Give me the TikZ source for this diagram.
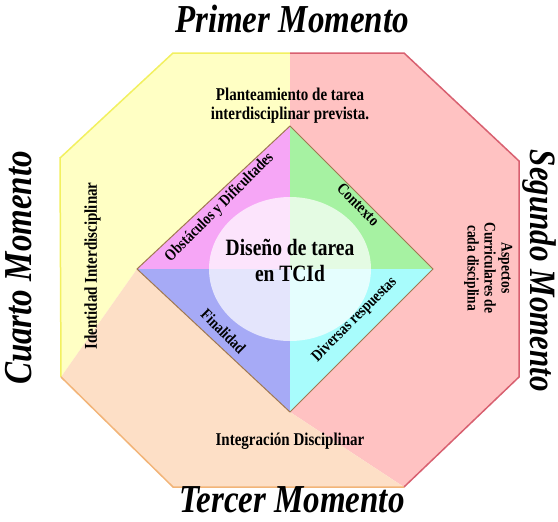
\documentclass[tikz,border=0pt]{standalone}
\usepackage{fontspec}
\setmainfont{Liberation Serif}
\usetikzlibrary{calc}
\definecolor{amarillo}{HTML}{FFFFC4}
\definecolor{bordeam}{HTML}{F2F060}
\definecolor{rojo}{HTML}{FFC2C2}
\definecolor{bordero}{HTML}{D86070}
\definecolor{durazno}{HTML}{FDDFC6}
\definecolor{bordedu}{HTML}{F2B478}
\definecolor{magenta}{HTML}{F6A6F6}
\definecolor{verde}{HTML}{A6F2A2}
\definecolor{azul}{HTML}{A6AAF6}
\definecolor{celeste}{HTML}{A8FCFC}
\definecolor{rombo}{HTML}{A07850}
\newcommand{\estirar}[1]{\scalebox{1}[1.2]{\begin{tabular}{@{}c@{}}#1\end{tabular}}}

\begin{document}
\begin{tikzpicture}[x=1pt,y=-1pt,
    etiq/.style={font=\bfseries\fontsize{15}{16}\selectfont,inner sep=1pt},
    diag/.style={font=\bfseries\fontsize{13.5}{14}\selectfont,inner sep=1pt},
    momento/.style={font=\bfseries\itshape\fontsize{33}{36}\selectfont,inner sep=0pt}]
    \useasboundingbox (0,0) rectangle (558,522);
    % octagono
    \coordinate(P1)at(173,53);
    \coordinate(P2)at(404,53);
    \coordinate(P3)at(519,161);
    \coordinate(P4)at(519,377);
    \coordinate(P5)at(404,487);
    \coordinate(P6)at(173,487);
    \coordinate(P7)at(61,377);
    \coordinate(P8)at(60,158);
    \coordinate(M)at(290,53);
    % rombo
    \coordinate(T)at(290,126);
    \coordinate(L)at(137,269);
    \coordinate(R)at(433,269);
    \coordinate(B)at(290,412);
    \coordinate(O)at(290,269);

    \fill[color=amarillo](M)--(P1)--(P8)--(P7)--(L)--(T)--cycle;
    \fill[color=rojo](M)--(P2)--(P3)--(P4)--(P5)--(B)--(R)--(T)--cycle;
    \fill[color=durazno](P7)--(P6)--(P5)--(B)--(L)--cycle;
    \draw[color=bordeam,line width=1.5pt](M)--(P1)--(P8)--(P7);
    \draw[color=bordero,line width=1.5pt](M)--(P2)--(P3)--(P4)--(P5);
    \draw[color=bordedu,line width=1.5pt](P7)--(P6)--(P5);

    \fill[color=magenta](T)--(L)--(O)--cycle;
    \fill[color=verde](T)--(R)--(O)--cycle;
    \fill[color=azul](L)--(B)--(O)--cycle;
    \fill[color=celeste](R)--(B)--(O)--cycle;
    \fill[white,opacity=0.7](O) ellipse [x radius=81,y radius=72];
    \draw[color=rombo,line width=1pt](T)--(R)--(B)--(L)--cycle;

    \node[etiq](plant)at(290,106){\estirar{Planteamiento de tarea\\interdisciplinar prevista.}};
    \node[etiq](integ)at(290,442){\estirar{Integración Disciplinar}};
    \node[etiq,rotate=90](ident)at(93,266){\estirar{Identidad Interdisciplinar}};
    \node[etiq,rotate=-90,font=\bfseries\fontsize{13.5}{14.2}\selectfont](aspec)at(488,268){\estirar{Aspectos\\Curriculares de\\cada disciplina}};
    \node[etiq,font=\bfseries\fontsize{19.5}{21.5}\selectfont](diseno)at(290,263){\estirar{Diseño de tarea\\en TCId}};

    \node[diag,rotate=45](obst)at(220,208){\estirar{Obstáculos y Dificultades}};
    \node[diag,rotate=-45](cont)at(357,206){\estirar{Contexto}};
    \node[diag,rotate=45](diver)at(355,320){\estirar{Diversas respuestas}};
    \node[diag,rotate=-45](final)at(222,333){\estirar{Finalidad}};

    \node[momento](m1)at(292,24){\estirar{Primer Momento}};
    \node[momento,rotate=-90,font=\bfseries\itshape\fontsize{31}{34}\selectfont](m2)at(539,271){\estirar{Segundo Momento}};
    \node[momento](m3)at(292,504){\estirar{Tercer Momento}};
    \node[momento,rotate=90](m4)at(23,268){\estirar{Cuarto Momento}};
  \end{tikzpicture}
\end{document}
